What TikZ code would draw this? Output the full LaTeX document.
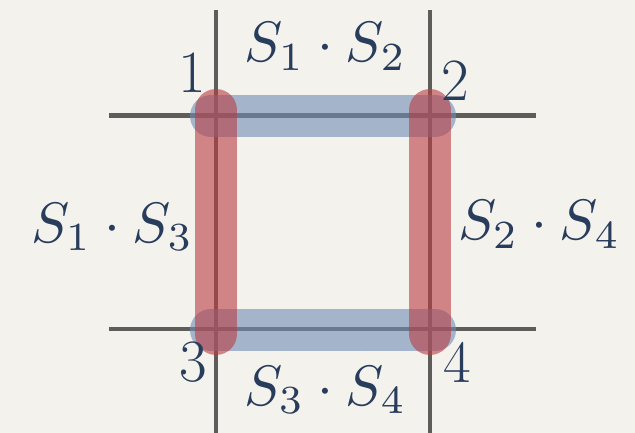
\documentclass[tikz,border=0pt]{standalone}
\definecolor{paper}{RGB}{244,242,237}
\definecolor{gridline}{RGB}{94,93,90}
\definecolor{barblue}{RGB}{111,141,181}
\definecolor{barred}{RGB}{185,60,65}
\definecolor{ink}{RGB}{40,60,92}
\begin{document}
\begin{tikzpicture}[x=1pt,y=-1pt,
  gline/.style={draw=gridline,line width=4.5pt},
  bluebar/.style={draw=barblue,draw opacity=0.6,line width=42pt,line cap=round},
  redbar/.style={draw=barred,draw opacity=0.6,line width=42pt,line cap=round},
  lbl/.style={text=ink,inner sep=0pt,font=\fontsize{10}{12}\selectfont,scale=5.7,transform shape},
  num/.style={text=ink,inner sep=0pt,font=\fontsize{60}{62}\selectfont}]
\fill[paper] (0,0) rectangle (635,433);
\useasboundingbox (0,0) rectangle (635,433);
% grid lines
\coordinate (v1t) at (216,10); \coordinate (v1b) at (216,433);
\coordinate (v2t) at (430,10); \coordinate (v2b) at (430,433);
\coordinate (h1l) at (109,115.5); \coordinate (h1r) at (536,115.5);
\coordinate (h2l) at (109,329); \coordinate (h2r) at (536,329);
\draw[gline] (v1t) -- (v1b);
\draw[gline] (v2t) -- (v2b);
\draw[gline] (h1l) -- (h1r);
\draw[gline] (h2l) -- (h2r);
% bars
\coordinate (b1a) at (211,116); \coordinate (b1b) at (435,116);
\coordinate (b2a) at (211,330); \coordinate (b2b) at (435,330);
\coordinate (r1a) at (216,110); \coordinate (r1b) at (216,334);
\coordinate (r2a) at (430,110); \coordinate (r2b) at (430,334);
\draw[bluebar] (b1a) -- (b1b);
\draw[bluebar] (b2a) -- (b2b);
\draw[redbar] (r1a) -- (r1b);
\draw[redbar] (r2a) -- (r2b);
% numbers
\node[num] (n1) at (192,73) {1};
\node[num] (n2) at (455,81) {2};
\node[num] (n3) at (193,362) {3};
\node[num] (n4) at (457,362) {4};
% labels
\node[lbl,anchor=base west] (s12) at (243,62) {$S_1\cdot S_2$};
\node[lbl,anchor=base west] (s13) at (30,242) {$S_1\cdot S_3$};
\node[lbl,anchor=base west] (s24) at (457,240) {$S_2\cdot S_4$};
\node[lbl,anchor=base west] (s34) at (243,405) {$S_3\cdot S_4$};
\end{tikzpicture}
\end{document}
